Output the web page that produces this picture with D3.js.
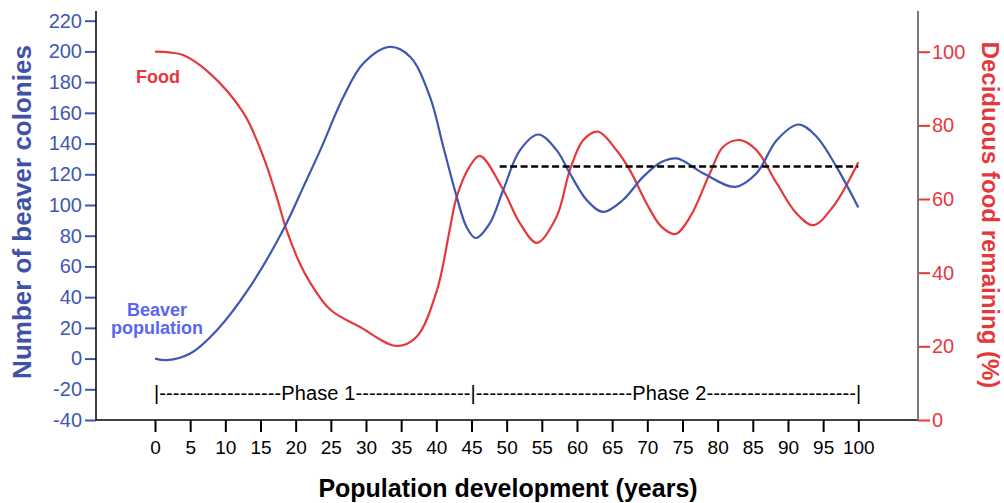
<!DOCTYPE html>
<html>
<head>
<meta charset="utf-8">
<script src="https://cdn.jsdelivr.net/npm/d3@7"></script>
<style>
  html, body { margin: 0; padding: 0; background: #fff; }
  svg { display: block; font-family: "Liberation Sans", Arial, sans-serif; }
</style>
</head>
<body>
<svg id="chart" width="1004" height="503"></svg>
<script>
// beaver colonies (left axis)
const beaverYears = [0, 1.7, 5, 8.8, 13.5, 18.2, 21.1, 23.5, 26.8, 29.6, 33.4, 36.3, 39.1, 41, 42.9, 44.3, 45.6,
  47.6, 49.5, 51.9, 54.5, 57.1, 59, 61.4, 63.7, 66.5, 69.4, 72, 74.2, 78, 82.5, 85.5, 88.4, 91.5, 94.1, 96.9, 100];
const beaverColonies = [0, -1, 3.3, 18.5, 46.7, 83.6, 111.8, 135.7, 170.4, 192.1, 202.9, 196.4, 170.4, 137.8, 105.3, 85.7, 78.5,
  88, 109.6, 135.7, 145.9, 135.7, 120.5, 103.1, 95.5, 103.1, 118.3, 128, 130.3, 120.5, 111.8, 120.5, 142.2, 152.4, 144.3, 124.8, 98.4];

// deciduous food remaining in % (right axis)
const foodYears = [0, 2, 4, 7.8, 12.6, 15.4, 17.3, 18.7, 20.6, 22, 24.9, 29.1, 34.4, 37.2, 40.1, 41.9, 42.9, 44.8, 46.2,
  49.5, 51.9, 54.3, 57.1, 59, 60.9, 63, 65.6, 67.5, 69.9, 72, 74, 76.1, 78.9, 80.8, 83.2, 85.5, 88.4, 91.2, 93.6, 96.4, 100];
const foodRemaining = [100, 99.8, 99.1, 94.1, 83.3, 71.5, 60.6, 51.6, 42.5, 37.5, 30, 25.3, 20.1, 22.6, 35.3, 51.6, 60.6, 69, 71.7,
  62.5, 53.4, 48.1, 55.2, 67.9, 76, 78.3, 73.3, 67.9, 58.8, 52.5, 50.5, 55.2, 67, 74.2, 76, 73.3, 64.3, 56.1, 52.9, 57.9, 70];

const xTicks = [0, 5, 10, 15, 20, 25, 30, 35, 40, 45, 50, 55, 60, 65, 70, 75, 80, 85, 90, 95, 100];
const leftTicks = [-40, -20, 0, 20, 40, 60, 80, 100, 120, 140, 160, 180, 200, 220];
const rightTicks = [0, 20, 40, 60, 80, 100];

const phases = [
  { label: 'Phase 1', start: 0, end: 45, before: 18, after: 17, closing: false },
  { label: 'Phase 2', start: 45, end: 100, before: 23, after: 22, closing: true },
];
const equilibrium = { from: 49, to: 100, value: 125 };

const blue = '#3f57b0';
const red = '#e4393c';
const font = '"Liberation Sans", Arial, sans-serif';
const plain = d => String(d);

const svg = d3.select('#chart');
const frame = { left: 96, right: 918, top: 11, bottom: 420 };

const x = d3.scaleLinear().domain([0, 100]).range([155, 858.3]);
const yLeft = d3.scaleLinear().domain([-40, 220]).range([420, 20.7]);
const yRight = d3.scaleLinear().domain([0, 100]).range([420, 51.7]);

// x axis
const xAxis = svg.append('g')
    .attr('transform', `translate(0,${frame.bottom})`)
    .call(d3.axisBottom(x).tickValues(xTicks).tickSize(12).tickPadding(9).tickFormat(plain));
xAxis.select('.domain').remove();
xAxis.selectAll('.tick line').attr('stroke', '#000').attr('stroke-width', 2);
xAxis.selectAll('.tick text').attr('fill', '#000').style('font-size', '19px').style('font-family', font);

// left axis
const leftAxis = svg.append('g')
    .attr('transform', `translate(${frame.left},0)`)
    .call(d3.axisLeft(yLeft).tickValues(leftTicks).tickSize(11).tickPadding(3).tickFormat(plain));
leftAxis.select('.domain').remove();
leftAxis.selectAll('.tick line').attr('stroke', blue).attr('stroke-width', 2);
leftAxis.selectAll('.tick text').attr('fill', '#4157b5').style('font-size', '20px').style('font-family', font);

// right axis
const rightAxis = svg.append('g')
    .attr('transform', `translate(${frame.right},0)`)
    .call(d3.axisRight(yRight).tickValues(rightTicks).tickSize(12).tickPadding(2).tickFormat(plain));
rightAxis.select('.domain').remove();
rightAxis.selectAll('.tick line').attr('stroke', red).attr('stroke-width', 2);
rightAxis.selectAll('.tick text').attr('fill', '#e8383d').style('font-size', '20px').style('font-family', font);

// frame lines
svg.append('line')
    .attr('x1', frame.left).attr('x2', frame.right)
    .attr('y1', frame.bottom).attr('y2', frame.bottom)
    .attr('stroke', '#000').attr('stroke-width', 1.5);
svg.append('line')
    .attr('x1', frame.left).attr('x2', frame.left)
    .attr('y1', frame.top).attr('y2', frame.bottom)
    .attr('stroke', '#000').attr('stroke-width', 1.5);
svg.append('line')
    .attr('x1', frame.right).attr('x2', frame.right)
    .attr('y1', frame.top).attr('y2', frame.bottom)
    .attr('stroke', '#777').attr('stroke-width', 2);

// curves
const beaverLine = d3.line()
    .x((d, i) => x(beaverYears[i]))
    .y(d => yLeft(d))
    .curve(d3.curveCatmullRom.alpha(0.5));
const foodLine = d3.line()
    .x((d, i) => x(foodYears[i]))
    .y(d => yRight(d))
    .curve(d3.curveCatmullRom.alpha(0.5));

svg.append('path')
    .datum(foodRemaining)
    .attr('d', foodLine)
    .attr('fill', 'none')
    .attr('stroke', red)
    .attr('stroke-width', 2.2);

svg.append('path')
    .datum(beaverColonies)
    .attr('d', beaverLine)
    .attr('fill', 'none')
    .attr('stroke', blue)
    .attr('stroke-width', 2.2);

// equilibrium dashed line
svg.append('line')
    .attr('x1', x(equilibrium.from)).attr('x2', x(equilibrium.to))
    .attr('y1', yLeft(equilibrium.value)).attr('y2', yLeft(equilibrium.value))
    .attr('stroke', '#000')
    .attr('stroke-width', 2.5)
    .attr('stroke-dasharray', '7,3.5');

// phase annotation
const phaseY = 400;
phases.forEach(p => {
    const txt = '|' + '-'.repeat(p.before) + p.label + '-'.repeat(p.after) + (p.closing ? '|' : '');
    const len = x(p.end) - x(p.start) + (p.closing ? 4 : 0);
    svg.append('text')
        .attr('x', x(p.start) - 1)
        .attr('y', phaseY)
        .attr('textLength', len)
        .attr('lengthAdjust', 'spacing')
        .style('font-size', '20px')
        .style('font-family', font)
        .attr('fill', '#000')
        .text(txt);
});

// inline labels
svg.append('text')
    .attr('x', 158).attr('y', 83)
    .attr('text-anchor', 'middle')
    .style('font-size', '18px').style('font-weight', 'bold').style('font-family', font)
    .attr('fill', red)
    .text('Food');

const beaverLabel = svg.append('text')
    .attr('text-anchor', 'middle')
    .style('font-size', '18px').style('font-weight', 'bold').style('font-family', font)
    .attr('fill', '#5a66f0');
beaverLabel.append('tspan').attr('x', 157).attr('y', 316).text('Beaver');
beaverLabel.append('tspan').attr('x', 157).attr('y', 334).text('population');

// axis titles
svg.append('text')
    .attr('transform', 'translate(31,212) rotate(-90)')
    .attr('text-anchor', 'middle')
    .style('font-size', '26px').style('font-weight', 'bold').style('font-family', font)
    .attr('fill', '#3f51a8')
    .text('Number of beaver colonies');

svg.append('text')
    .attr('transform', 'translate(982,215) rotate(90)')
    .attr('text-anchor', 'middle')
    .style('font-size', '24px').style('font-weight', 'bold').style('font-family', font)
    .attr('fill', red)
    .text('Deciduous food remaining (%)');

svg.append('text')
    .attr('x', 508).attr('y', 497)
    .attr('text-anchor', 'middle')
    .style('font-size', '25px').style('font-weight', 'bold').style('font-family', font)
    .attr('fill', '#000')
    .text('Population development (years)');
</script>
</body>
</html>
